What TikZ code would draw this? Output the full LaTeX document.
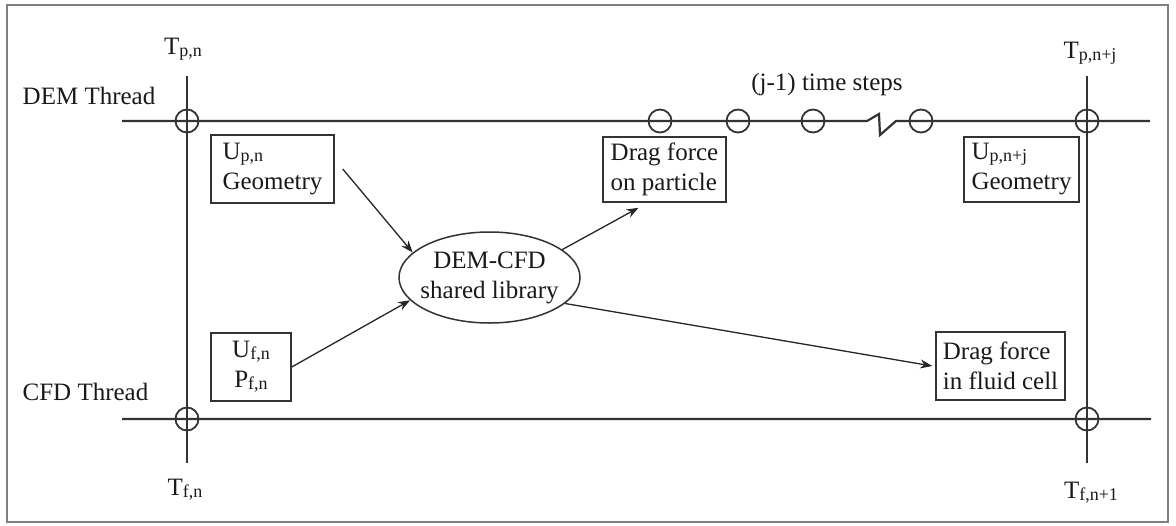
\documentclass[tikz,border=0pt]{standalone}
\usepackage{fontspec}
\setmainfont{Liberation Serif}
\usetikzlibrary{arrows.meta,shapes.geometric}

\newcommand{\idx}[1]{\raisebox{-1pt}{\fontsize{9}{9}\selectfont #1}}

\tikzset{
	thread/.style={line width=1.1pt,black!80},
	timeline/.style={line width=0.8pt,black!80},
	tickring/.style={circle,draw,line width=0.9pt,black!80,minimum size=11.5pt,inner sep=0pt},
	stamp/.style={anchor=base,inner sep=0pt},
	databox/.style={draw,line width=0.75pt,black!80,text=black!90,inner sep=0pt},
	flow/.style={line width=0.65pt,black!85,-{Stealth[length=6pt,width=4.5pt]}},
}

\begin{document}
\begin{tikzpicture}[x=0.5pt,y=-0.5pt,font=\fontsize{12.5}{15}\selectfont,text=black!90]
	\useasboundingbox (0,0) rectangle (1176,525);
	\draw[black!50,line width=1pt] (7,5) rectangle (1168,522);
	\coordinate (demstart) at (122,121);
	\coordinate (demend) at (1150,121);
	\coordinate (cfdstart) at (122,419);
	\coordinate (cfdend) at (1151,419);
	\coordinate (nowtop) at (187,76);
	\coordinate (nowbot) at (187,463);
	\coordinate (nexttop) at (1087,76);
	\coordinate (nextbot) at (1087,463);
	\coordinate (breakin) at (867,121);
	\coordinate (breakup) at (879,114);
	\coordinate (breakdown) at (880,135);
	\coordinate (breakout) at (896,121);
	\draw[thread] (demstart) -- (breakin) -- (breakup) -- (breakdown) -- (breakout) -- (demend)
		(cfdstart) -- (cfdend);
	\draw[timeline] (nowtop) -- (nowbot) (nexttop) -- (nextbot);
	\node[tickring] (pnow) at (187,121) {};
	\node[tickring] (fnow) at (187,419) {};
	\node[tickring] (pnext) at (1087,121) {};
	\node[tickring] (fnext) at (1087,419) {};
	\foreach \x/\name in {660/stepa,738/stepb,813/stepc,921/stepd}
		\node[tickring] (\name) at (\x,121) {};
	\node[stamp] (demlabel) at (89,104) {DEM Thread};
	\node[stamp] (cfdlabel) at (85.5,400) {CFD Thread};
	\node[stamp] (tpn) at (183,54) {T\idx{p,n}};
	\node[stamp] (tpnj) at (1090,58) {T\idx{p,n+j}};
	\node[stamp] (tfn) at (185,495) {T\idx{f,n}};
	\node[stamp] (tfnone) at (1091,498) {T\idx{f,n+1}};
	\node[stamp] (steps) at (827,90) {(j-1) time steps};
	\node[databox,align=left,minimum width=61.5pt,minimum height=34pt] (upn) at (272.5,169) {U\idx{p,n}\\Geometry};
	\node[databox,align=left,minimum width=61.5pt,minimum height=32.5pt] (dragp) at (664.5,169.5) {Drag force\\on particle};
	\node[databox,align=left,minimum width=57.5pt,minimum height=32.5pt] (upnj) at (1021.5,169.5) {U\idx{p,n+j}\\Geometry};
	\node[databox,align=center,minimum width=40pt,minimum height=34pt] (ufn) at (251,367) {U\idx{f,n}\\P\idx{f,n}};
	\node[databox,align=left,minimum width=64.5pt,minimum height=34pt] (dragf) at (1000.5,366) {Drag force\\in fluid cell};
	\node[databox,ellipse,align=center,inner xsep=-6pt,minimum width=90.5pt,minimum height=45.5pt] (lib) at (489.5,277.5) {DEM-CFD\\shared library};
	\draw[flow] ([xshift=4pt]upn.east) -- (lib.162);
	\draw[flow] (ufn.east) -- (lib.196);
	\draw[flow] (lib.21) -- ([xshift=-13pt,yshift=-2.5pt]dragp.south);
	\draw[flow] (lib.-19) -- ([xshift=-1.5pt]dragf.west);
\end{tikzpicture}
\end{document}
